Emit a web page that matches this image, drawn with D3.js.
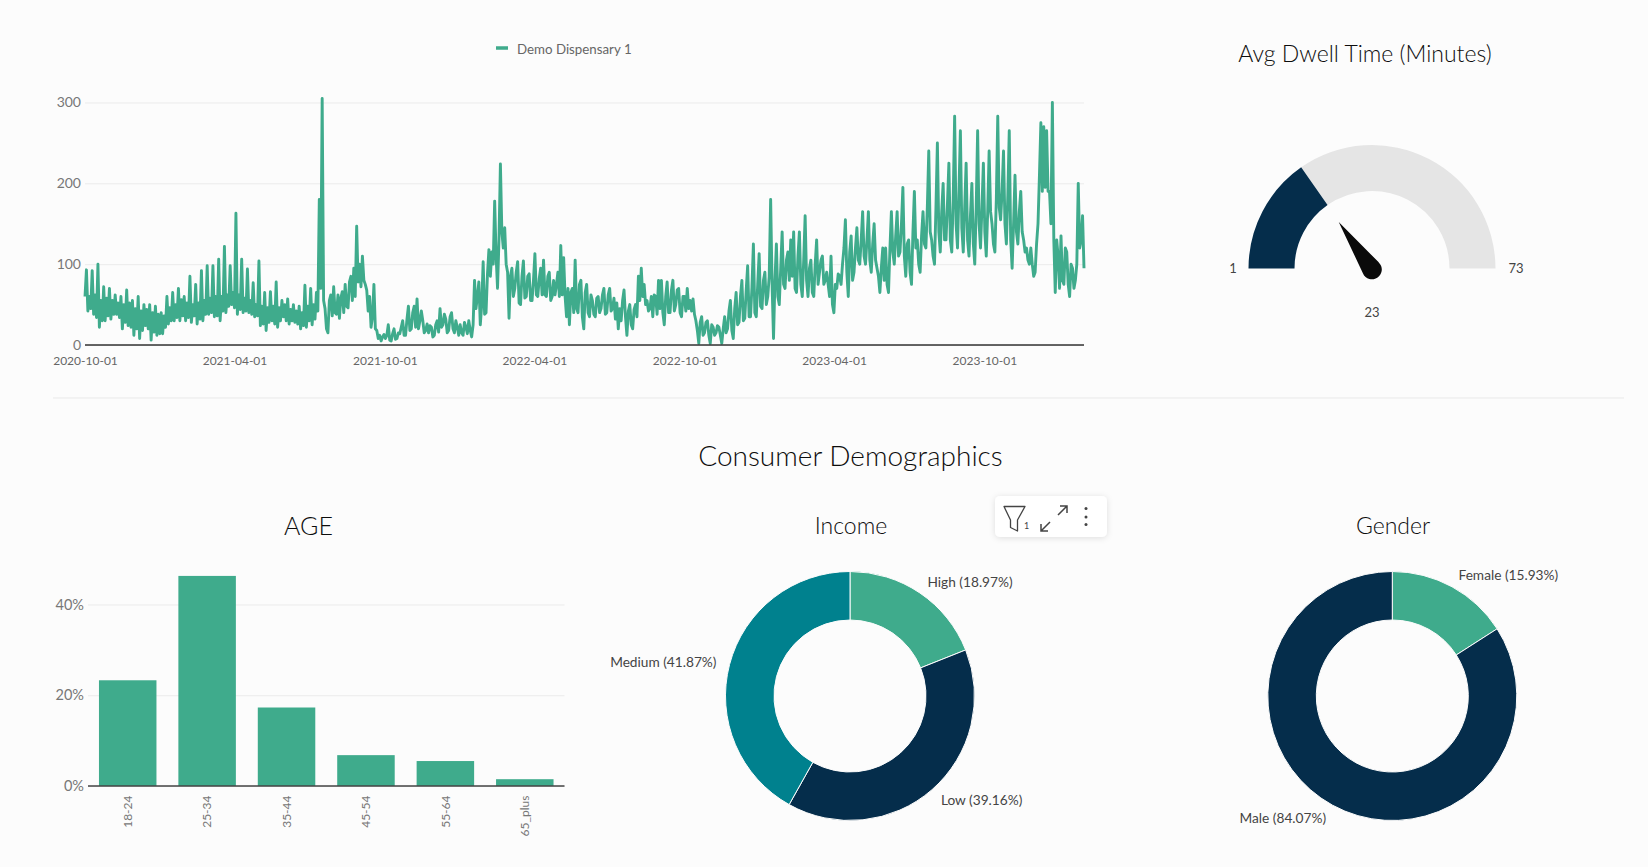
<!DOCTYPE html>
<html>
<head>
<meta charset="utf-8">
<script src="https://cdn.jsdelivr.net/npm/d3@7"></script>
<style>
  html, body { margin: 0; padding: 0; background: #fcfcfc; overflow: hidden; }
  text { font-family: Lato, "Open Sans", sans-serif; }
  .domain { display: none; }
  .tick line { display: none; }
</style>
</head>
<body>
<svg id="chart" width="1648" height="867"></svg>
<script>
// visits: weekly peak, then the low and top of the solid band
const visitStart = "2020-10-01";
const visitStepDays = 1.75;
const visitValues = [
  60,
  93,42,60,45, 92,38,62,34, 100,22,55,30, 72,30,58,36, 70,32,55,38,
  62,38,52,34, 60,20,50,28, 68,24,52,22, 55,12,45,20, 60,8,42,18,
  50,24,44,20, 50,6,40,16, 48,12,38,14, 40,14,36,22, 60,26,46,30,
  65,30,50,34, 70,30,56,36, 60,30,52,34, 85,28,50,36, 75,26,52,32,
  92,30,55,38, 98,38,58,40, 98,35,60,36, 106,30,60,42, 122,40,62,48,
  98,50,65,46, 163,38,62,44, 106,40,58,42, 94,40,55,38, 77,35,50,36,
  104,24,48,26, 65,18,46,28, 66,30,48,26, 78,22,46,30, 55,35,50,30,
  57,26,44,30, 50,28,42,26, 48,20,40,24, 74,22,48,30, 70,25,50,32,
  65,42,180,70,305,55,
  45,20,15,55,62,36,72,40,38,62,33,58,66,40,75,48,46,78,85,55,
  95,60,147,78,100,72,110,80,75,68,42,60,22,35,75,20,18,8,12,5,
  10,13,8,12,25,6,5,14,20,7,8,15,14,22,30,12,12,32,48,18,
  20,40,48,22,57,20,30,42,30,15,18,26,15,24,22,10,12,25,30,16,
  45,22,25,38,32,15,18,35,40,20,15,30,22,12,25,15,12,28,22,14,
  30,18,10,25,80,45,60,78,25,50,103,38,40,88,118,85,115,100,178,110,
  70,130,224,140,120,145,100,90,33,85,95,60,70,90,103,52,50,85,104,58,
  60,85,88,55,55,80,113,62,60,82,95,62,105,62,60,85,90,55,60,80,
  62,75,90,60,123,62,108,60,35,70,25,65,70,40,105,45,40,75,80,35,
  20,65,75,40,35,62,55,38,35,58,60,40,45,62,70,38,40,62,70,42,
  45,58,32,52,20,45,30,55,68,35,12,42,50,25,20,44,50,35,85,55,
  95,60,75,50,55,42,45,60,35,62,60,38,80,45,80,40,25,60,78,40,
  40,68,80,42,50,68,70,40,35,60,60,42,70,45,55,42,57,38,30,18,
  2,28,35,12,15,28,30,12,2,25,22,12,15,24,22,12,2,20,35,15,
  20,42,55,18,8,45,65,25,28,60,80,30,33,68,98,35,35,72,125,40,
  35,75,113,48,45,80,90,50,60,85,180,75,8,80,125,60,50,95,140,75,
  70,105,115,80,130,85,140,70,65,110,140,75,60,105,160,80,60,95,105,65,
  60,100,130,75,90,105,110,75,80,90,75,60,110,50,40,75,70,88,85,75,
  100,120,155,90,60,115,135,80,90,120,145,105,100,130,165,110,100,130,165,105,
  90,125,150,105,95,85,65,95,120,80,120,75,65,120,165,115,100,135,165,110,
  115,150,195,110,85,125,130,90,75,140,190,120,130,100,90,135,165,125,120,170,
  240,140,130,110,100,170,250,140,115,165,200,130,130,175,225,130,115,180,283,150,
  120,190,265,145,115,170,225,130,110,160,200,125,100,170,265,150,120,170,225,140,
  110,165,240,165,150,125,115,180,283,170,155,190,240,150,125,185,265,130,95,150,
  210,140,125,165,190,140,130,115,120,105,100,120,100,85,90,125,150,210,275,190,
  270,195,265,190,190,150,300,130,65,130,110,70,135,80,75,120,115,75,60,100,
  95,70,80,100,200,120,130,160,95
];
const visitTicks = ["2020-10-01","2021-04-01","2021-10-01","2022-04-01","2022-10-01","2023-04-01","2023-10-01"];
const visitYTicks = [0,100,200,300];
const legendLabel = "Demo Dispensary 1";

const gaugeMin = 1;
const gaugeMax = 73;
const gaugeValue = 23;

const ageCategories = ["18-24","25-34","35-44","45-54","55-64","65_plus"];
const ageValues = [23.3,46.3,17.3,6.8,5.5,1.5];
const ageTicks = [0,20,40];

const incomeLabels = ["High","Low","Medium"];
const incomeValues = [18.97,39.16,41.87];
const genderLabels = ["Female","Male"];
const genderValues = [15.93,84.07];

const green = "#3fab8c", navy = "#052d4b", teal = "#00818e";
const svg = d3.select("#chart");

function title(txt, x, y, size) {
  svg.append("text").attr("x", x).attr("y", y)
    .attr("text-anchor", "middle").attr("dominant-baseline", "central")
    .attr("fill", "#0d0d0d").style("font-size", size + "px").style("font-weight", 300).text(txt);
}

// ---- line chart
const parseDay = d3.timeParse("%Y-%m-%d");
const visitDates = visitValues.map((v, i) => new Date(+parseDay(visitStart) + i * visitStepDays * 864e5));
const lineX = d3.scaleTime().domain(d3.extent(visitDates)).range([85, 1084]);
const lineY = d3.scaleLinear().domain([0, 300]).range([345, 102.5]);

const lineGrid = svg.append("g").attr("transform", "translate(85,0)")
  .call(d3.axisLeft(lineY).tickValues(visitYTicks).tickSize(-999).tickFormat(""));
lineGrid.selectAll(".tick line").style("display", "inline").attr("stroke", "#ebebeb");

const lineYAxis = svg.append("g").attr("transform", "translate(81,0)")
  .call(d3.axisLeft(lineY).tickValues(visitYTicks).tickSize(0).tickPadding(0));
lineYAxis.selectAll("text").attr("fill", "#777").style("font-size", "14px");

svg.append("path").datum(visitValues)
  .attr("d", d3.line().x((d, i) => lineX(visitDates[i])).y(d => lineY(d)))
  .attr("fill", "none").attr("stroke", green).attr("stroke-width", 2.9).attr("stroke-linejoin", "round");

svg.append("line").attr("x1", 85).attr("x2", 1084).attr("y1", lineY(0)).attr("y2", lineY(0))
  .attr("stroke", "#333").attr("stroke-width", 1.6);

const lineXAxis = svg.append("g").attr("transform", "translate(0,345)")
  .call(d3.axisBottom(lineX).tickValues(visitTicks.map(parseDay)).tickSize(0).tickPadding(11).tickFormat(d3.timeFormat("%Y-%m-%d")));
lineXAxis.selectAll("text").attr("fill", "#666").style("font-size", "12px");

svg.append("line").attr("x1", 496).attr("x2", 508).attr("y1", 48).attr("y2", 48)
  .attr("stroke", green).attr("stroke-width", 3.5);
svg.append("text").attr("x", 517).attr("y", 49).attr("dominant-baseline", "central")
  .attr("fill", "#666").style("font-size", "13.3px").text(legendLabel);

svg.append("line").attr("x1", 53).attr("x2", 1624).attr("y1", 398).attr("y2", 398)
  .attr("stroke", "#e9e9e9");

// ---- gauge
title("Avg Dwell Time (Minutes)", 1365, 52.5, 23);
const gaugeAngle = d3.scaleLinear().domain([gaugeMin, gaugeMax]).range([-Math.PI / 2, Math.PI / 2]);
const gaugeG = svg.append("g").attr("transform", "translate(1372,268.5)");
const gaugeArc = d3.arc().innerRadius(77.5).outerRadius(123.5);
gaugeG.append("path").attr("fill", "#e5e5e5")
  .attr("d", gaugeArc({ startAngle: gaugeAngle(gaugeValue), endAngle: gaugeAngle(gaugeMax) }));
gaugeG.append("path").attr("fill", navy)
  .attr("d", gaugeArc({ startAngle: gaugeAngle(gaugeMin), endAngle: gaugeAngle(gaugeValue) }));

// needle drawn pointing up, then turned to the value
const needle = d3.path();
needle.moveTo(0, -58);
needle.lineTo(9.6, -2);
needle.arc(0, 0, 9.8, -0.2, Math.PI + 0.2);
needle.closePath();
gaugeG.append("path").attr("d", needle.toString()).attr("fill", "#0a0a0a")
  .attr("transform", "translate(0,1) rotate(" + (gaugeAngle(gaugeValue) * 180 / Math.PI) + ")");

[[gaugeMin, 1233, 268], [gaugeMax, 1516, 268], [gaugeValue, 1372, 312]].forEach(l => {
  svg.append("text").attr("x", l[1]).attr("y", l[2]).attr("text-anchor", "middle")
    .attr("dominant-baseline", "central").attr("fill", "#444").style("font-size", "13px").text(l[0]);
});

// ---- demographics
title("Consumer Demographics", 850.5, 454.5, 28);
title("AGE", 308.5, 525, 25);

const barX = d3.scaleBand().domain(ageCategories).range([88, 564.5]).paddingInner(0.276).paddingOuter(0.138);
const barY = d3.scaleLinear().domain([0, 40]).range([786, 604.5]);

const barGrid = svg.append("g").attr("transform", "translate(88,0)")
  .call(d3.axisLeft(barY).tickValues(ageTicks).tickSize(-476.5).tickFormat(""));
barGrid.selectAll(".tick line").style("display", "inline").attr("stroke", "#ebebeb");

svg.selectAll("rect.age").data(ageValues).enter().append("rect")
  .attr("class", "age")
  .attr("x", (d, i) => barX(ageCategories[i]))
  .attr("y", d => barY(d))
  .attr("width", barX.bandwidth())
  .attr("height", d => barY(0) - barY(d))
  .attr("fill", green);

svg.append("line").attr("x1", 88).attr("x2", 564.5).attr("y1", barY(0)).attr("y2", barY(0))
  .attr("stroke", "#444").attr("stroke-width", 1.6);

const barYAxis = svg.append("g").attr("transform", "translate(84,0)")
  .call(d3.axisLeft(barY).tickValues(ageTicks).tickSize(0).tickPadding(0).tickFormat(d => d + "%"));
barYAxis.selectAll("text").attr("fill", "#777").style("font-size", "14.5px");

const barXAxis = svg.append("g").attr("transform", "translate(0,786)")
  .call(d3.axisBottom(barX).tickSize(0).tickFormat(d => d));
barXAxis.selectAll("text")
  .attr("transform", "rotate(-90)")
  .attr("x", -9.5).attr("y", 0).attr("dy", "0.35em")
  .attr("text-anchor", "end")
  .attr("fill", "#777").style("font-size", "12px");

function donut(cx, cy, labels, values, colors) {
  const g = svg.append("g").attr("transform", "translate(" + cx + "," + cy + ")");
  const pie = d3.pie().sort(null)(values);
  const arc = d3.arc().innerRadius(76).outerRadius(124.5);
  const labelArc = d3.arc().innerRadius(138).outerRadius(138);
  g.selectAll("path").data(pie).enter().append("path")
    .attr("d", arc)
    .attr("fill", (d, i) => colors[i])
    .attr("stroke", "#fcfcfc").attr("stroke-width", 1);
  g.selectAll("text").data(pie).enter().append("text")
    .attr("x", d => labelArc.centroid(d)[0])
    .attr("y", d => labelArc.centroid(d)[1])
    .attr("text-anchor", d => (d.startAngle + d.endAngle) / 2 < Math.PI ? "start" : "end")
    .attr("dominant-baseline", "central")
    .attr("fill", "#444").style("font-size", "13.7px")
    .text((d, i) => labels[i] + " (" + values[i].toFixed(2) + "%)");
}

title("Income", 851, 525, 23);
donut(850, 696, incomeLabels, incomeValues, [green, navy, teal]);

title("Gender", 1393, 525, 23);
donut(1392.3, 696, genderLabels, genderValues, [green, navy]);

// ---- hover toolbar over the income chart
const defs = svg.append("defs");
defs.append("filter").attr("id", "soft").attr("x", "-20%").attr("y", "-40%").attr("width", "140%").attr("height", "180%")
  .append("feDropShadow").attr("dx", 0).attr("dy", 1).attr("stdDeviation", 3).attr("flood-color", "#000").attr("flood-opacity", 0.12);
const bar = svg.append("g").attr("transform", "translate(995,496)");
bar.append("rect").attr("width", 112).attr("height", 41).attr("rx", 5).attr("fill", "#fff").attr("filter", "url(#soft)");
bar.append("path").attr("d", "M9,10.5 H30 L22.5,24 V35 L15.5,31.5 V24 Z")
  .attr("fill", "none").attr("stroke", "#444").attr("stroke-width", 1.3).attr("stroke-linejoin", "round");
bar.append("text").attr("x", 29).attr("y", 33).attr("fill", "#444").style("font-size", "9px").text("1");
bar.append("path").attr("d", "M46,35 L55,26 M46,28 V35 H53 M63,19 L72,10 M65,10 H72 V17")
  .attr("fill", "none").attr("stroke", "#444").attr("stroke-width", 1.5);
[12.5, 21, 28.5].forEach(y => {
  bar.append("circle").attr("cx", 91).attr("cy", y).attr("r", 1.5).attr("fill", "#444");
});
</script>
</body>
</html>
